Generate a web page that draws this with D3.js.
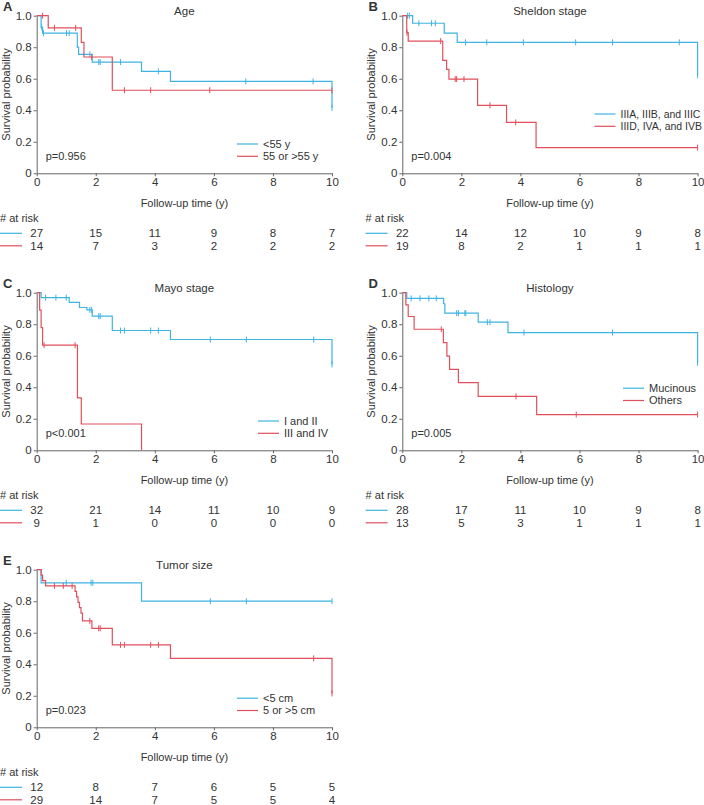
<!DOCTYPE html>
<html><head><meta charset="utf-8">
<script src="https://cdn.jsdelivr.net/npm/d3@7"></script>
<style>
body{margin:0;background:#fff;}
svg text{font-family:"Liberation Sans",Arial,sans-serif;fill:#333;}
</style></head>
<body><svg id="chart" width="704" height="805"></svg>
<script>
// ---------- data ----------
const xTicks = [0, 2, 4, 6, 8, 10];
const yTicks = [0, 0.2, 0.4, 0.6, 0.8, 1.0];
const riskTimes = [0, 2, 4, 6, 8, 10];

const panelLetters = ["A", "B", "C", "D", "E"];
const panelTitles = ["Age", "Sheldon stage", "Mayo stage", "Histology", "Tumor size"];
const pValues = ["p=0.956", "p=0.004", "p<0.001", "p=0.005", "p=0.023"];
const legendBlue = ["<55 y", "IIIA, IIIB, and IIIC", "I and II", "Mucinous", "<5 cm"];
const legendRed = ["55 or >55 y", "IIID, IVA, and IVB", "III and IV", "Others", "5 or >5 cm"];

const riskBlue = [[27,15,11,9,8,7],[22,14,12,10,9,8],[32,21,14,11,10,9],[28,17,11,10,9,8],[12,8,7,6,5,5]];
const riskRed  = [[14,7,3,2,2,2],[19,8,2,1,1,1],[9,1,0,0,0,0],[13,5,3,1,1,1],[29,14,7,5,5,4]];

// Kaplan-Meier steps: [time, survival after drop]
const ageBlueSteps = [[0.15,0.926],[0.2,0.889],[1.375,0.8],[1.42,0.755],[1.88,0.706],[3.55,0.647],[4.53,0.583],[10,0.415]];
const ageBlueCens  = [0.17,0.23,1.01,1.1,1.8,2.1,2.15,2.84,4.12,7.08,9.36,10];
const ageRedSteps  = [[0.39,0.923],[1.51,0.831],[1.6,0.738],[2.56,0.527]];
const ageRedCens   = [0.2,0.6,1.32,1.86,2.97,3.86,5.86,10];

const sheldonBlueSteps = [[0.35,0.952],[1.42,0.89],[1.86,0.831],[10,0.622]];
const sheldonBlueCens  = [0.18,0.24,0.56,0.99,1.12,2.14,2.86,4.1,5.87,7.12,9.38,10];
const sheldonRedSteps  = [[0.15,0.892],[0.2,0.839],[1.37,0.717],[1.5,0.66],[1.58,0.598],[2.55,0.431],[3.53,0.323],[4.53,0.163]];
const sheldonRedCens   = [0.16,1.3,1.79,1.84,2.09,2.97,3.84,10];

const mayoBlueSteps = [[0.15,0.969],[1.1,0.938],[1.45,0.906],[1.7,0.891],[1.88,0.851],[2.56,0.76],[4.53,0.703],[10,0.545]];
const mayoBlueCens  = [0.3,0.65,1.0,1.8,1.86,2.1,2.15,2.84,2.97,3.86,4.12,5.88,7.1,9.38,10];
const mayoRedSteps  = [[0.1,0.889],[0.15,0.778],[0.2,0.667],[1.38,0.333],[1.51,0.167],[3.55,0]];
const mayoRedCens   = [0.25,1.3];

const histBlueSteps = [[0.15,0.964],[1.4,0.93],[1.44,0.87],[2.57,0.813],[3.58,0.747],[10,0.556]];
const histBlueCens  = [0.3,0.6,0.9,1.15,1.84,1.9,2.12,2.15,2.88,2.97,4.12,7.12,10];
const histRedSteps  = [[0.12,0.923],[0.2,0.849],[0.4,0.768],[1.39,0.683],[1.51,0.598],[1.6,0.513],[1.9,0.429],[2.57,0.342],[4.55,0.227]];
const histRedCens   = [1.32,3.85,5.89,10];

const sizeBlueSteps = [[0.15,0.917],[3.55,0.8]];
const sizeBlueCens  = [1.0,1.84,1.9,5.88,7.1,10];
const sizeRedSteps  = [[0.15,0.966],[0.2,0.931],[0.3,0.897],[1.3,0.862],[1.35,0.828],[1.4,0.793],[1.45,0.759],[1.5,0.724],[1.55,0.675],[1.87,0.628],[2.56,0.523],[4.53,0.437],[10,0.215]];
const sizeRedCens   = [0.6,0.9,1.2,1.8,2.1,2.15,2.84,2.97,3.86,4.12,9.38,10];

const blueSteps = [ageBlueSteps, sheldonBlueSteps, mayoBlueSteps, histBlueSteps, sizeBlueSteps];
const blueCens  = [ageBlueCens, sheldonBlueCens, mayoBlueCens, histBlueCens, sizeBlueCens];
const redSteps  = [ageRedSteps, sheldonRedSteps, mayoRedSteps, histRedSteps, sizeRedSteps];
const redCens   = [ageRedCens, sheldonRedCens, mayoRedCens, histRedCens, sizeRedCens];

// ---------- drawing ----------
const BLUE = "#3fb4e2", RED = "#e0505c", AXIS = "#666";
const svg = d3.select("#chart");
const colDx = 365.6, rowDy = 277;
const plotW = 295.3, plotH = 157.6;
// legend placement (relative to plot origin), per panel
const legendX = [200.3, 204, 221.3, 220.7, 200.3];
const legendY = [128.3, 98.3, 128.3, 95.5, 128.5];
const legendFont = [11, 10.5, 11, 11, 11];

function survAt(steps, t){
  let s = 1;
  for (const [st, sv] of steps) if (st <= t) s = sv;
  return s;
}

for (let i = 0; i < 5; i++){
  const col = i % 2, row = Math.floor(i / 2);
  const ox = 36.7 + col * colDx, oy = 15.7 + row * rowDy;
  const g = svg.append("g").attr("transform", `translate(${ox},${oy})`);
  const x = d3.scaleLinear().domain([0, 10]).range([0, plotW]);
  const y = d3.scaleLinear().domain([0, 1]).range([plotH, 0]);

  // axes
  const ya = g.append("g").call(d3.axisLeft(y).tickValues(yTicks).tickSize(3).tickSizeOuter(0)
      .tickFormat(d => d === 0 ? "0" : d3.format(".1f")(d)));
  const xa = g.append("g").attr("transform", `translate(0,${plotH})`)
      .call(d3.axisBottom(x).tickValues(xTicks).tickSize(3).tickSizeOuter(0).tickFormat(d3.format("d")));
  [ya, xa].forEach(a => {
    a.select(".domain").attr("stroke", AXIS);
    a.selectAll(".tick line").attr("stroke", AXIS);
    a.selectAll(".tick text").attr("font-size", 11.5).attr("fill", "#444")
      .style("font-family", '"Liberation Sans",Arial,sans-serif');
  });
  ya.selectAll(".tick text").attr("x", -5);
  xa.selectAll(".tick text").attr("y", 5);

  // labels
  g.append("text").attr("x", -36.7 + 3).attr("y", -4.5).attr("font-weight", "bold").attr("font-size", 13)
    .text(panelLetters[i]);
  g.append("text").attr("x", plotW / 2).attr("y", -5).attr("text-anchor", "middle").attr("dy", "0.35em")
    .attr("font-size", 11.5).text(panelTitles[i]);
  g.append("text").attr("transform", `translate(${-27},${plotH / 2}) rotate(-90)`).attr("text-anchor", "middle")
    .attr("font-size", 11).text("Survival probability");
  g.append("text").attr("x", plotW / 2).attr("y", plotH + 30).attr("dy", "0.35em").attr("text-anchor", "middle")
    .attr("font-size", 11).text("Follow-up time (y)");
  g.append("text").attr("x", 9).attr("y", plotH - 17).attr("dy", "0.35em").attr("font-size", 11).text(pValues[i]);

  // legend
  const lg = g.append("g");
  [[legendBlue[i], BLUE], [legendRed[i], RED]].forEach(([lab, c], k) => {
    const ly = legendY[i] + k * 12.3;
    lg.append("line").attr("x1", legendX[i]).attr("x2", legendX[i] + 21)
      .attr("y1", ly).attr("y2", ly).attr("stroke", c).attr("stroke-width", 1.2);
    lg.append("text").attr("x", legendX[i] + 26).attr("y", ly).attr("dy", "0.35em")
      .attr("font-size", legendFont[i]).text(lab);
  });
  // keep the legend inside the page
  const bb = lg.node().getBBox();
  const overflow = ox + bb.x + bb.width - 702;
  if (overflow > 0) lg.attr("transform", `translate(${-overflow},0)`);

  // curves
  const line = d3.line().x(d => x(d[0])).y(d => y(d[1])).curve(d3.curveStepAfter);
  [[blueSteps[i], blueCens[i], BLUE], [redSteps[i], redCens[i], RED]].forEach(([steps, cens, c]) => {
    const last = steps[steps.length - 1];
    const endT = Math.max(last[0], cens.length ? d3.max(cens) : 0);
    const pts = [[0, 1], ...steps, [endT, last[1]]];
    g.append("path").attr("d", line(pts)).attr("fill", "none").attr("stroke", c).attr("stroke-width", 1.2);
    g.selectAll(null).data(cens).enter().append("line")
      .attr("x1", d => x(d)).attr("x2", d => x(d))
      .attr("y1", d => y(survAt(steps, d)) - 3).attr("y2", d => y(survAt(steps, d)) + 3)
      .attr("stroke", c).attr("stroke-width", 1);
  });

  // risk table
  g.append("text").attr("x", -36.7).attr("y", plotH + 45).attr("dy", "0.35em").attr("font-size", 11).text("# at risk");
  [[riskBlue[i], BLUE, 60], [riskRed[i], RED, 72.5]].forEach(([vals, c, dy]) => {
    g.append("line").attr("x1", -36.7).attr("x2", -14.7).attr("y1", plotH + dy).attr("y2", plotH + dy)
      .attr("stroke", c).attr("stroke-width", 1.2);
    g.selectAll(null).data(riskTimes).enter().append("text")
      .attr("x", d => x(d)).attr("y", plotH + dy).attr("dy", "0.35em").attr("text-anchor", "middle")
      .attr("font-size", 11.5).text((d, k) => vals[k]);
  });
}
</script></body></html>
